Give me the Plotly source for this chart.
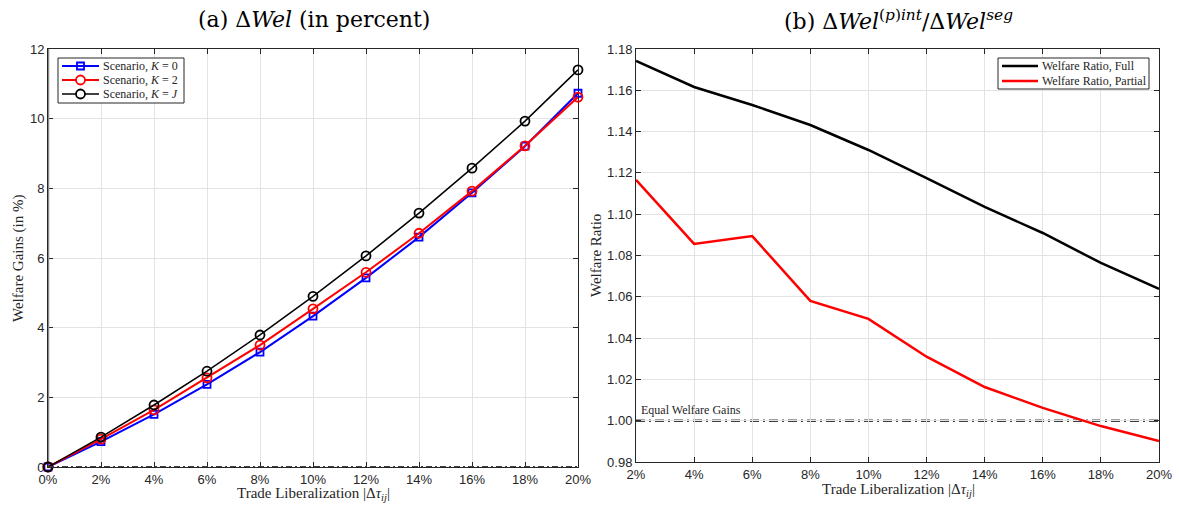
import plotly.graph_objects as go

# Trade liberalization steps (percent)
lib_a = [0, 2, 4, 6, 8, 10, 12, 14, 16, 18, 20]
lib_b = [2, 4, 6, 8, 10, 12, 14, 16, 18, 20]

# Panel (a): welfare gains in percent
gain_k0 = [0.0, 0.73, 1.51, 2.37, 3.30, 4.33, 5.43, 6.60, 7.87, 9.21, 10.73]
gain_k2 = [0.0, 0.80, 1.64, 2.56, 3.50, 4.54, 5.59, 6.71, 7.92, 9.22, 10.62]
gain_kj = [0.0, 0.86, 1.78, 2.75, 3.79, 4.90, 6.06, 7.29, 8.58, 9.93, 11.40]

# Panel (b): welfare ratios
ratio_full = [1.1742, 1.1616, 1.1529, 1.1432, 1.1311, 1.1175, 1.1035, 1.0909, 1.0764, 1.0638]
ratio_partial = [1.1166, 1.0856, 1.0894, 1.0580, 1.0493, 1.0310, 1.0163, 1.0062, 0.9974, 0.9902]

W, H = 1179, 507
SERIF = "Liberation Serif, DejaVu Serif, serif"
TITLE_SERIF = "DejaVu Serif, Liberation Serif, serif"
SANS = "Liberation Sans, Arial, sans-serif"
INK = "#262626"


def fx(p):
    """Horizontal pixel position -> paper fraction."""
    return p / W


def fy(p):
    """Vertical pixel position (from top) -> paper fraction."""
    return 1 - p / H


fig = go.Figure()

# Panel (a) traces
series_a = [
    ("Scenario, <i>K</i> = 0", gain_k0, "#0000ff", "square-open", 7, 2.0),
    ("Scenario, <i>K</i> = 2", gain_k2, "#ff0000", "circle-open", 9, 2.0),
    ("Scenario, <i>K</i> = <i>J</i>", gain_kj, "#000000", "circle-open", 9, 1.5),
]

# Panel (b) traces
series_b = [
    ("Welfare Ratio, Full", ratio_full, "#000000"),
    ("Welfare Ratio, Partial", ratio_partial, "#ff0000"),
]
for name, vals, col in series_b:
    fig.add_trace(go.Scatter(
        x=lib_b, y=vals, mode="lines", name=name,
        line=dict(color=col, width=2.5), xaxis="x2", yaxis="y2", showlegend=False))

axis_common = dict(
    showgrid=True, gridcolor="#e3e3e3", gridwidth=1,
    showline=True, linecolor=INK, linewidth=1, mirror="ticks",
    ticks="inside", ticklen=5, tickcolor=INK,
    tickfont=dict(family=SANS, size=13, color=INK),
    zeroline=False, automargin=False,
)

fig.update_layout(
    width=W, height=H,
    margin=dict(l=0, r=0, t=0, b=0, autoexpand=False),
    paper_bgcolor="white", plot_bgcolor="white",
    showlegend=False,
    xaxis=dict(axis_common, domain=[fx(48), fx(578)], range=[0, 20],
               tickvals=lib_a, ticktext=[f"{v}%" for v in lib_a], anchor="y"),
    yaxis=dict(axis_common, domain=[fy(467), fy(49)], range=[0, 12],
               tickvals=[0, 2, 4, 6, 8, 10, 12], anchor="x", layer="below traces"),
    xaxis2=dict(axis_common, domain=[fx(636), fx(1159)], range=[2, 20],
                tickvals=lib_b, ticktext=[f"{v}%" for v in lib_b], anchor="y2"),
    yaxis2=dict(axis_common, domain=[fy(462), fy(49)], range=[0.98, 1.18],
                tickvals=[0.98, 1.00, 1.02, 1.04, 1.06, 1.08, 1.10, 1.12, 1.14, 1.16, 1.18],
                tickformat=".2f", anchor="x2"),
)

# Left spine of panel (a) drawn as a gray zero line, under the data
fig.add_trace(go.Scatter(x=[0, 0], y=[0, 12], mode="lines", hoverinfo="skip",
                         line=dict(color="#8a8a8a", width=2.5),
                         xaxis="x", yaxis="y", showlegend=False, cliponaxis=False))

for name, vals, col, sym, size, lw in series_a:
    fig.add_trace(go.Scatter(
        x=lib_a, y=vals, mode="lines+markers", name=name,
        line=dict(color=col, width=lw),
        marker=dict(symbol=sym, size=size, color=col, line=dict(width=1.8)),
        xaxis="x", yaxis="y", showlegend=False, cliponaxis=False))

# Reference lines
fig.add_shape(type="line", xref="x", yref="y", x0=0, x1=20, y0=0, y1=0,
              line=dict(color="#404040", width=2, dash="6px,3px,2px,3px"), layer="above")
fig.add_shape(type="line", xref="x2", yref="y2", x0=2, x1=20, y0=1.0, y1=1.0,
              line=dict(color="#404040", width=2.5, dash="9px,4px,2px,4px"), layer="below")

fig.add_annotation(x=2.1, y=1.0, xref="x2", yref="y2", text="Equal Welfare Gains",
                   showarrow=False, xanchor="left", yanchor="bottom", yshift=2,
                   font=dict(family=SERIF, size=12, color=INK))

# Panel titles
for cx, txt in [(314, "(a) Δ<i>Wel</i> (in percent)"),
                (898, "(b) Δ<i>Wel</i><sup>(<i>p</i>)<i>int</i></sup>/Δ<i>Wel</i><sup><i>seg</i></sup>")]:
    fig.add_annotation(x=fx(cx), y=fy(20), xref="paper", yref="paper", text=txt,
                       xanchor="center", yanchor="middle", showarrow=False,
                       font=dict(family=TITLE_SERIF, size=22, color="#000000"))

# Axis titles
xtitle = "Trade Liberalization |Δ<i>τ</i><sub><i>ij</i></sub>|"
for cx, cy in [(313, 494), (898, 490)]:
    fig.add_annotation(x=fx(cx), y=fy(cy), xref="paper", yref="paper", text=xtitle,
                       xanchor="center", yanchor="middle", showarrow=False,
                       font=dict(family=SERIF, size=15, color=INK))
for cx, cy, txt in [(18, 258, "Welfare Gains (in %)"), (596, 256, "Welfare Ratio")]:
    fig.add_annotation(x=fx(cx), y=fy(cy), xref="paper", yref="paper", text=txt,
                       textangle=-90, xanchor="center", yanchor="middle", showarrow=False,
                       font=dict(family=SERIF, size=15, color=INK))


# Legend boxes drawn in pixel-derived paper coordinates
def legend_box(x0, y0, x1, y1):
    fig.add_shape(type="rect", xref="paper", yref="paper",
                  x0=fx(x0), x1=fx(x1), y0=fy(y1), y1=fy(y0),
                  line=dict(color=INK, width=1), fillcolor="white", layer="above")


def legend_row(lx0, lx1, ry, col, lw, text, marker=None):
    fig.add_shape(type="line", xref="paper", yref="paper",
                  x0=fx(lx0), x1=fx(lx1), y0=fy(ry), y1=fy(ry),
                  line=dict(color=col, width=lw), layer="above")
    mx = (lx0 + lx1) / 2
    if marker == "square":
        r = 3.5
        fig.add_shape(type="rect", xref="paper", yref="paper",
                      x0=fx(mx - r), x1=fx(mx + r), y0=fy(ry + r), y1=fy(ry - r),
                      line=dict(color=col, width=1.8), fillcolor="rgba(0,0,0,0)", layer="above")
    elif marker == "circle":
        r = 4.5
        fig.add_shape(type="circle", xref="paper", yref="paper",
                      x0=fx(mx - r), x1=fx(mx + r), y0=fy(ry + r), y1=fy(ry - r),
                      line=dict(color=col, width=1.8), fillcolor="white", layer="above")
    fig.add_annotation(x=fx(lx1 + 2), y=fy(ry), xref="paper", yref="paper", text=text,
                       xanchor="left", yanchor="middle", showarrow=False,
                       font=dict(family=SERIF, size=12, color=INK))


legend_box(58, 58, 184, 103)
legend_row(62, 99, 66, "#0000ff", 2, series_a[0][0], "square")
legend_row(62, 99, 80, "#ff0000", 2, series_a[1][0], "circle")
legend_row(62, 99, 94, "#000000", 1.5, series_a[2][0], "circle")

legend_box(998, 58, 1149, 89)
legend_row(1002, 1038, 66, "#000000", 2.5, series_b[0][0])
legend_row(1002, 1038, 81, "#ff0000", 2.5, series_b[1][0])

fig.write_html("out.html")
